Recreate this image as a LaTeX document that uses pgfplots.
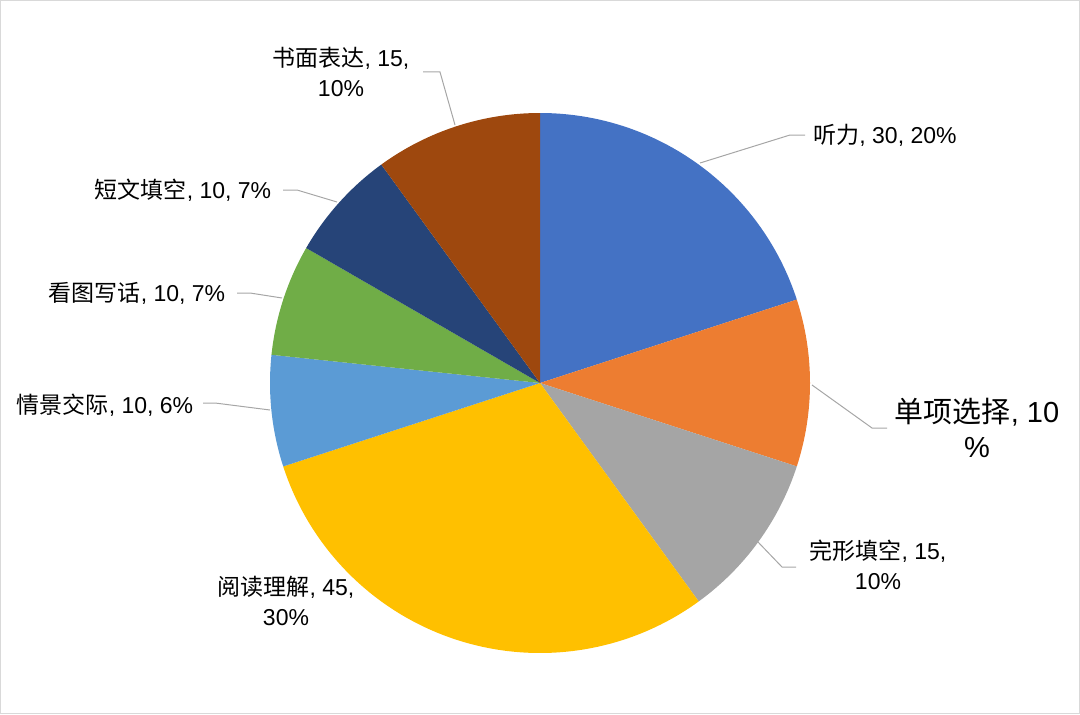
\documentclass[border=0pt]{standalone}
\usepackage{pgfplots}
\usepackage{pgfplotstable}
\pgfplotsset{compat=1.18}
\usepackage{fontspec}
\setmainfont{Liberation Sans}
\newfontfamily\cjk{Noto Sans CJK SC}
\definecolor{pA}{HTML}{4472C4}
\definecolor{pB}{HTML}{ED7D31}
\definecolor{pC}{HTML}{A5A5A5}
\definecolor{pD}{HTML}{FFC000}
\definecolor{pE}{HTML}{5B9BD5}
\definecolor{pF}{HTML}{70AD47}
\definecolor{pG}{HTML}{264478}
\definecolor{pH}{HTML}{9E480E}
\definecolor{leader}{HTML}{A6A6A6}
\definecolor{frame}{HTML}{D9D9D9}

\pgfplotstableread{
value col
30 pA
15 pB
15 pC
45 pD
10 pE
10 pF
10 pG
15 pH
}\piedata

\begin{document}
\begin{tikzpicture}
\begin{axis}[
  x=1pt, y=1pt,
  xmin=0, xmax=540, ymin=0, ymax=357,
  hide axis, clip=false,
]
% frame
\draw[frame, line width=0.6pt] (axis cs:0.3,0.3) rectangle (axis cs:539.7,356.7);
% totals
\pgfplotstablegetrowsof{\piedata}
\pgfmathtruncatemacro\N{\pgfplotsretval-1}
\def\total{0}
\pgfplotsforeachungrouped \i in {0,...,\N}{%
  \pgfplotstablegetelem{\i}{value}\of\piedata
  \pgfmathsetmacro\total{\total+\pgfplotsretval}%
}
\def\cum{0}
\pgfplotsforeachungrouped \i in {0,...,\N}{%
  \pgfplotstablegetelem{\i}{value}\of\piedata \let\v\pgfplotsretval
  \pgfplotstablegetelem{\i}{col}\of\piedata \let\c\pgfplotsretval
  \pgfmathsetmacro\a{90-360*(\cum/\total)}%
  \pgfmathsetmacro\b{90-360*((\cum+\v)/\total)}%
  \pgfmathsetmacro\sx{270+135*cos(\a)}%
  \pgfmathsetmacro\sy{165.5+135*sin(\a)}%
  \edef\temp{\noexpand\fill[\c] (axis cs:270,165.5) -- (axis cs:\sx,\sy) arc[start angle=\a, end angle=\b, radius=135pt] -- cycle;}%
  \temp
  \pgfmathsetmacro\cum{\cum+\v}%
}
% leader lines
\draw[leader, line width=0.5pt] (axis cs:350,275.5) -- (axis cs:395,289.5) -- (axis cs:402.5,289.5);
\draw[leader, line width=0.5pt] (axis cs:406,164.5) -- (axis cs:436,143) -- (axis cs:443.5,143);
\draw[leader, line width=0.5pt] (axis cs:379,86) -- (axis cs:391,73.5) -- (axis cs:398,73.5);
\draw[leader, line width=0.5pt] (axis cs:101.5,155.5) -- (axis cs:107.5,155.5) -- (axis cs:135,152);
\draw[leader, line width=0.5pt] (axis cs:118.5,210.5) -- (axis cs:125,210.5) -- (axis cs:141,208);
\draw[leader, line width=0.5pt] (axis cs:141.5,262) -- (axis cs:148.5,262) -- (axis cs:168.5,256);
\draw[leader, line width=0.5pt] (axis cs:211.5,321) -- (axis cs:220,321) -- (axis cs:227.5,294.5);
% labels
\tikzset{lbl/.style={align=center, inner sep=0pt, font=\fontsize{11.5}{15}\selectfont}}
\node[lbl] at (axis cs:442.5,289.5) {{\cjk 听力}, 30, 20\%};
\node[lbl, font=\fontsize{14.5}{17.5}\selectfont] at (axis cs:488.5,143.25) {{\cjk 单项选择}, 10\\\%};
\node[lbl] at (axis cs:439,74.5) {{\cjk 完形填空}, 15,\\10\%};
\node[lbl] at (axis cs:143,56.5) {{\cjk 阅读理解}, 45,\\30\%};
\node[lbl] at (axis cs:52.5,154.5) {{\cjk 情景交际}, 10, 6\%};
\node[lbl] at (axis cs:68.5,210.5) {{\cjk 看图写话}, 10, 7\%};
\node[lbl] at (axis cs:91.5,262) {{\cjk 短文填空}, 10, 7\%};
\node[lbl] at (axis cs:170.5,321) {{\cjk 书面表达}, 15,\\10\%};
\end{axis}
\end{tikzpicture}
\end{document}
